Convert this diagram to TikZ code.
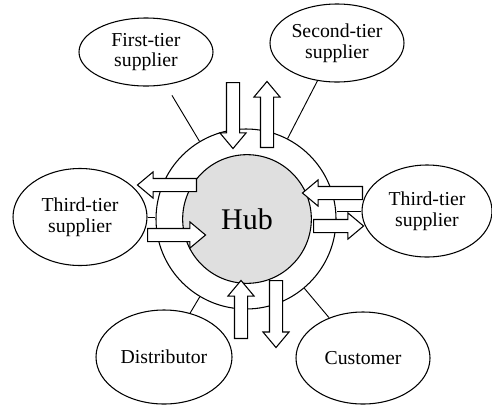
\documentclass[tikz,border=0pt]{standalone}
\usepackage{fontspec}
\setmainfont{Liberation Serif}
\usetikzlibrary{shapes.geometric, shapes.arrows}

\begin{document}
\begin{tikzpicture}[x=0.75pt, y=-0.75pt]
    \tikzstyle{party}=[draw,ellipse,line width=0.8pt,align=center,inner sep=0pt,font=\fontsize{14.8}{15.5}\selectfont]
    \tikzstyle{rimcircle}=[draw,circle,line width=0.8pt,fill=white,minimum size=135pt]
    \tikzstyle{core}=[draw,circle,line width=0.8pt,fill=gray!25,minimum size=96.5pt,font=\fontsize{22.5}{24}\selectfont]
    \tikzstyle{link}=[draw,line width=0.7pt]
    \tikzstyle{flow}=[draw,fill=white,line width=0.8pt,single arrow,single arrow head extend=4.9pt,single arrow tip angle=80,inner sep=4.5pt,anchor=tail]

    \useasboundingbox (0,0) rectangle (492,404);

    \node[rimcircle] (rim) at (246,219) {};
    \node[core] (hub) at (247,219) {Hub};

    \node[party,minimum width=100.5pt,minimum height=51pt] (first) at (146,52) {First-tier\\supplier};
    \node[party,minimum width=100.5pt,minimum height=58.5pt] (second) at (337,43) {Second-tier\\supplier};
    \node[party,minimum width=100.5pt,minimum height=72.75pt] (thirdw) at (80,217) {Third-tier\\supplier};
    \node[party,minimum width=97.5pt,minimum height=69pt] (thirde) at (427,211) {Third-tier\\supplier};
    \node[party,minimum width=102pt,minimum height=70.5pt] (dist) at (164,357) {Distributor};
    \node[party,minimum width=100.5pt,minimum height=69pt] (cust) at (363,358) {Customer};

    \path[link,shorten <=9pt] (first) -- (rim);
    \path[link] (second) -- (rim);
    \path[link] (thirdw.east) -- (thirdw.east -| rim.west);
    \path[link] (thirde.west) -- (thirde.west -| rim.east);
    \path[link] (dist) -- (rim);
    \path[link] (cust) -- (rim);

    % goods in and out of the hub
    \node[flow,minimum height=49.5pt,rotate=270] (down1) at (233,82) {};
    \node[flow,minimum height=49.5pt,rotate=90] (up1) at (267,148) {};
    \node[flow,minimum height=44.25pt,rotate=180] (out1) at (197,185) {};
    \node[flow,minimum height=43.5pt] (in1) at (147,235) {};
    \node[flow,minimum height=45pt,rotate=180] (in2) at (363,193) {};
    \node[flow,minimum height=37.5pt] (out2) at (313,226) {};
    \node[flow,minimum height=43.5pt,rotate=90] (up2) at (241,339) {};
    \node[flow,minimum height=50.25pt,rotate=270] (down2) at (276,280) {};
\end{tikzpicture}
\end{document}
